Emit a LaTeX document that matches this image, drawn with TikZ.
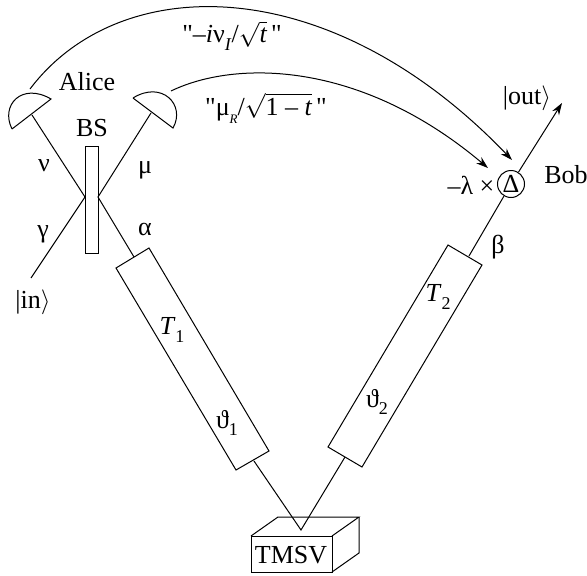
\documentclass[tikz,border=0pt]{standalone}
\usepackage{fontspec}
\setmainfont{Liberation Serif}
\usepackage{tikz}
\usetikzlibrary{arrows.meta}
\newcommand\lowsub[1]{\raisebox{-.3em}{\fontsize{18}{18}\selectfont #1}}
\newcommand\straightq{\XeTeXglyph\XeTeXcharglyph"22\relax}
\begin{document}
\begin{tikzpicture}[x=1pt,y=-1pt]
                \tikzstyle{label}=[font=\fontsize{26}{30}\selectfont,inner sep=0pt]
                \tikzstyle{beam}=[line width=1pt]
                \tikzstyle{signal}=[line width=1pt,-{Stealth[length=12pt,width=8pt]}]
                \newcommand\lab[4]{\node[label] at (#1,#2) (#3) {#4};}
                \useasboundingbox (0,0) rectangle (587,576);
                \coordinate (det1a) at (12,129);
                \coordinate (det1b) at (51,99);
                \coordinate (det2a) at (133,98);
                \coordinate (det2b) at (173,128);
                \coordinate (nu) at (32,115);
                \coordinate (mu) at (151,113);
                \coordinate (bsl) at (85,197);
                \coordinate (bsr) at (98,197);
                \coordinate (input) at (31,278);
                \coordinate (t1in) at (134,257);
                \coordinate (t1out) at (254,461);
                \coordinate (t2in) at (469,256);
                \coordinate (t2out) at (345,457);
                \coordinate (source) at (301,530);
                \coordinate (output) at (562,103);
                \coordinate (sig1a) at (30,89);
                \coordinate (sig1b) at (512,160);
                \coordinate (sig2a) at (171,91);
                \coordinate (sig2b) at (488,168);
                \draw[beam] (nu) -- (bsl) -- (input);
                \draw[beam] (mu) -- (bsr) -- (t1in);
                \draw[beam] (t1out) -- (source) -- (t2out);
                \draw[beam] (det1a) -- (det1b) .. controls (22,82) and (0,105) .. (det1a);
                \draw[beam] (det2a) -- (det2b) .. controls (186,105) and (162,80) .. (det2a);
                \draw[beam] (85,146) rectangle (98,253);
                \draw[beam] (116,268) -- (149,248) -- (269,451) -- (236,470) -- cycle;
                \draw[beam] (328,447) -- (448,245) -- (482,265) -- (362,467) -- cycle;
                \draw[beam] (251,536) -- (278,517) -- (359,517) -- (332,536);
                \draw[beam] (359,517) -- (359,553) -- (332,572);
                \draw[beam] (251,536) rectangle (332,572);
                \node[label,draw,circle,line width=1pt,minimum size=27pt] at (511,184) (delta) {Δ};
                \draw[beam] (t2in) -- (delta);
                \draw[signal] (delta) -- (output);
                \draw[signal] (sig1a) .. controls (120,-30) and (330,-30) .. (sig1b);
                \draw[signal] (sig2a) .. controls (235,60) and (360,60) .. (sig2b);
                \lab{232}{36}{sig1}{\straightq–\textit{i}ν\lowsub{\textit{I}}/$\sqrt{\mbox{\itshape t}}$\,\straightq}
                \lab{266}{108}{sig2}{\straightq μ\lowsub{\fontsize{13}{13}\selectfont\textit{R}}/$\sqrt{\mbox{1 – \itshape t}}$\,\straightq}
                \lab{87}{82}{alice}{Alice}
                \lab{92}{128}{bs}{BS}
                \lab{44}{166}{nulab}{ν}
                \lab{145}{170}{mulab}{μ}
                \lab{43}{234}{gamma}{γ}
                \lab{145}{229}{alpha}{α}
                \lab{33}{302}{in}{|in$\rangle$}
                \lab{527}{98}{out}{|out$\rangle$}
                \lab{566}{175}{bob}{Bob}
                \lab{471}{185}{lambda}{–λ ×}
                \lab{498}{247}{beta}{β}
                \lab{172}{330}{t1}{\textit{T}\lowsub{1}}
                \lab{227}{423}{th1}{ϑ\lowsub{1}}
                \lab{438}{297}{t2}{\textit{T}\lowsub{2}}
                \lab{377}{402}{th2}{ϑ\lowsub{2}}
                \lab{291}{555}{tmsv}{TMSV}
            \end{tikzpicture}
\end{document}
